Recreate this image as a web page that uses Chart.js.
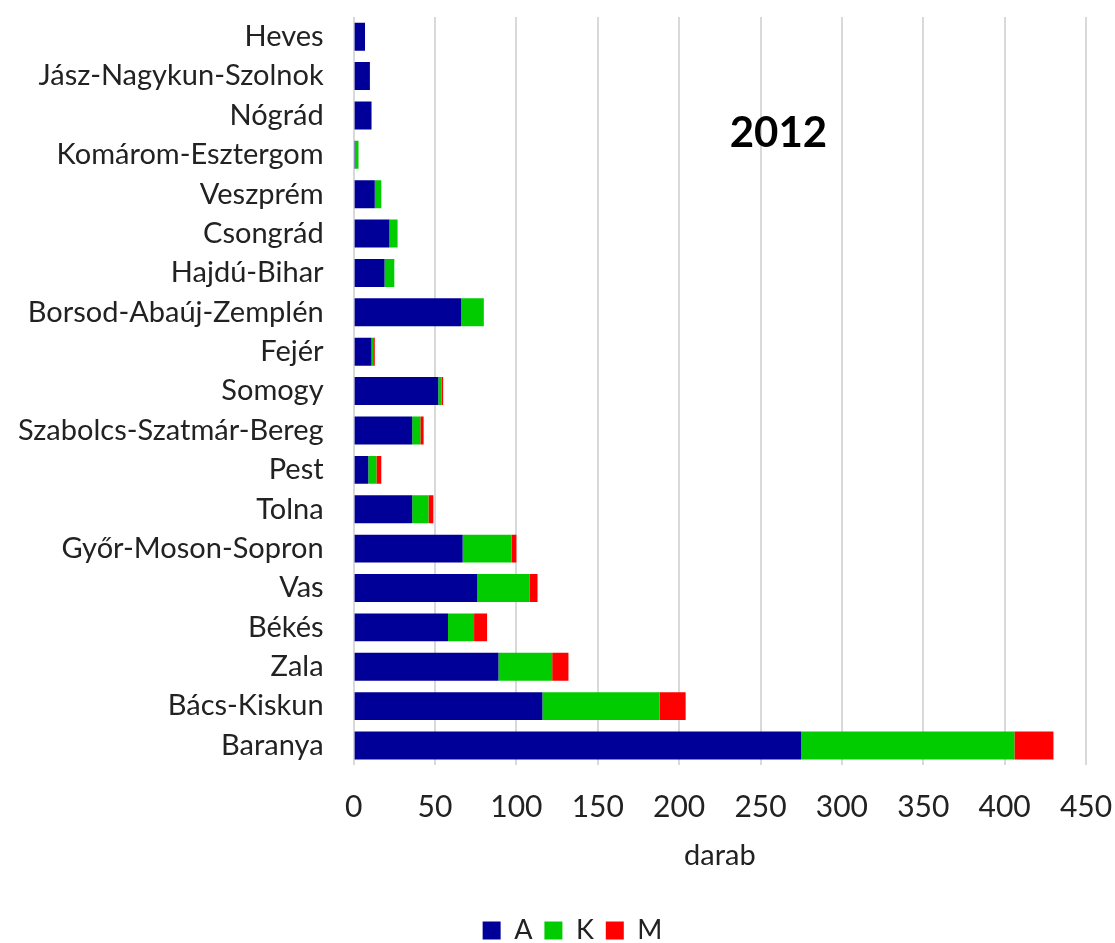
<!DOCTYPE html>
<html>
<head>
<meta charset="utf-8">
<script src="https://cdn.jsdelivr.net/npm/chart.js@4.4.0/dist/chart.umd.min.js"></script>
<style>
  html, body { margin: 0; padding: 0; background: #fff; }
  #wrap { width: 1115px; height: 943px; }
</style>
</head>
<body>
<div id="wrap"><canvas id="chart"></canvas></div>
<script>
// megyék, felülről lefelé
const counties = ['Heves', 'Jász-Nagykun-Szolnok', 'Nógrád', 'Komárom-Esztergom', 'Veszprém',
    'Csongrád', 'Hajdú-Bihar', 'Borsod-Abaúj-Zemplén', 'Fejér', 'Somogy',
    'Szabolcs-Szatmár-Bereg', 'Pest', 'Tolna', 'Győr-Moson-Sopron', 'Vas',
    'Békés', 'Zala', 'Bács-Kiskun', 'Baranya'];

const valuesA = [7, 10, 11, 1, 13, 22, 19, 66, 11, 52, 36, 9, 36, 67, 76, 58, 89, 116, 275];
const valuesK = [0, 0, 0, 2, 4, 5, 6, 14, 1, 2, 5, 5, 10, 30, 32, 16, 33, 72, 131];
const valuesM = [0, 0, 0, 0, 0, 0, 0, 0, 1, 1, 2, 3, 3, 3, 5, 8, 10, 16, 24];

const xTicks = [0, 50, 100, 150, 200, 250, 300, 350, 400, 450];
const yearLabel = '2012';
const axisTitle = 'darab';

const fontFamily = 'Lato, "Open Sans", sans-serif';

// évszám felirat a rajzterületen belül
const yearPlugin = {
    id: 'yearPlugin',
    afterDraw(chart) {
        const area = chart.chartArea;
        const ctx = chart.ctx;
        ctx.save();
        ctx.font = 'bold 42px ' + fontFamily;
        ctx.fillStyle = '#000';
        ctx.textAlign = 'center';
        ctx.textBaseline = 'middle';
        ctx.fillText(yearLabel, area.left + area.width * 0.58, area.top + area.height * 0.155);
        ctx.restore();
    }
};

const ctx = document.getElementById('chart').getContext('2d');

new Chart(ctx, {
    type: 'bar',
    data: {
        labels: counties,
        datasets: [
            { label: 'A', data: valuesA, backgroundColor: '#000099' },
            { label: 'K', data: valuesK, backgroundColor: '#00CC00' },
            { label: 'M', data: valuesM, backgroundColor: '#FF0000' }
        ]
    },
    options: {
        indexAxis: 'y',
        responsive: true,
        maintainAspectRatio: false,
        animation: false,
        datasets: {
            bar: { barPercentage: 1, categoryPercentage: 0.71 }
        },
        layout: { padding: { top: 17, right: -42, left: -12, bottom: -11 } },
        scales: {
            x: {
                stacked: true,
                min: 0,
                max: 450,
                afterBuildTicks(scale) {
                    scale.ticks = xTicks.map(v => ({ value: v }));
                },
                afterFit(scale) {
                    scale.paddingRight = 29;
                },
                grid: { color: '#d9d9d9', lineWidth: 2, drawTicks: false },
                border: { display: false },
                ticks: {
                    color: '#222',
                    font: { family: fontFamily, size: 30 },
                    padding: 24
                },
                title: {
                    display: true,
                    text: axisTitle,
                    color: '#222',
                    font: { family: fontFamily, size: 29 },
                    padding: { top: -11, bottom: 32 }
                }
            },
            y: {
                stacked: true,
                grid: { display: false, drawTicks: false },
                border: { display: false },
                ticks: {
                    color: '#222',
                    font: { family: fontFamily, size: 29 },
                    padding: 30,
                    autoSkip: false
                },
                afterFit(scale) {
                    // no extra room above/below the category labels
                    scale.paddingTop = 0;
                    scale.paddingBottom = 0;
                }
            }
        },
        plugins: {
            legend: {
                position: 'bottom',
                labels: {
                    color: '#222',
                    font: { family: fontFamily, size: 27 },
                    boxWidth: 18,
                    boxHeight: 18,
                    padding: 12
                }
            },
            tooltip: { enabled: false }
        }
    },
    plugins: [yearPlugin]
});
</script>
</body>
</html>
